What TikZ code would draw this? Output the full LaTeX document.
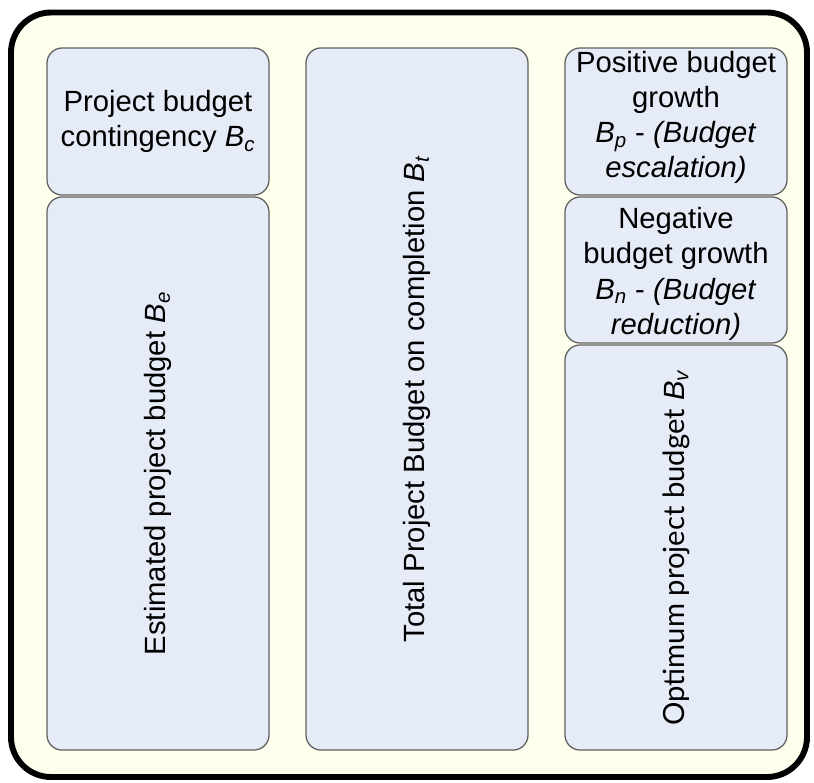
\documentclass[tikz,border=0pt]{standalone}
\usepackage{fontspec}
\setmainfont{Liberation Sans}
\newfontfamily\humanist{Lato}
\usepackage{xcolor}
\usetikzlibrary{positioning}

\definecolor{panelfill}{HTML}{FFFFEE}
\definecolor{boxfill}{HTML}{E6ECF7}
\definecolor{boxline}{HTML}{5F5F5F}

\newcommand{\bsym}[1]{\textit{B}\textsubscript{\textit{#1}}}

\begin{document}
\begin{tikzpicture}[
    x=0.025cm, y=-0.025cm,
    panel/.style={draw=black, fill=panelfill, line width=4.2pt, rounded corners=1cm},
    budget/.style={rectangle, draw=boxline, fill=boxfill, line width=0.9pt, rounded corners=0.38cm,
        minimum width=5.55cm, inner sep=0pt, align=center, font=\fontsize{20.8}{25}\selectfont},
    upright/.style={budget, rotate=90, minimum height=5.55cm},
    boxtext/.style={inner sep=0pt, align=center, font=\fontsize{20.8}{25}\selectfont}
]

\useasboundingbox (0,0) rectangle (814,782);

% Outer panel
\draw[panel] (11,12.5) rectangle (807,777);

% Left column
\node[budget, minimum height=3.675cm] (bc) at (158,121.5) {Project budget\\contingency \bsym{c}};
\node[upright, minimum width=13.825cm] (be) at (158,473.5) {Estimated project budget \bsym{e}};

% Middle column
\node[upright, minimum width=17.55cm] (bt) at (417,399) {Total Project Budget on completion \bsym{t}};

% Right column
\node[budget, minimum height=3.675cm] (bp) at (676,121.5) {};
\node[boxtext] (bp-text) at ([yshift=0.1cm]bp.center)
    {Positive budget\\growth\\\bsym{p} - \textit{(Budget}\\\textit{escalation)}};
\node[budget, minimum height=3.65cm] (bn) at (676,270) {};
\node[boxtext] (bn-text) at ([yshift=-0.1cm]bn.center)
    {Negative\\budget growth\\\bsym{n} - \textit{(Budget}\\\textit{reduction)}};
\node[upright, minimum width=10.125cm] (bv) at (676,547.5) {{\humanist Optimum project budget} \bsym{v}};

\end{tikzpicture}
\end{document}
